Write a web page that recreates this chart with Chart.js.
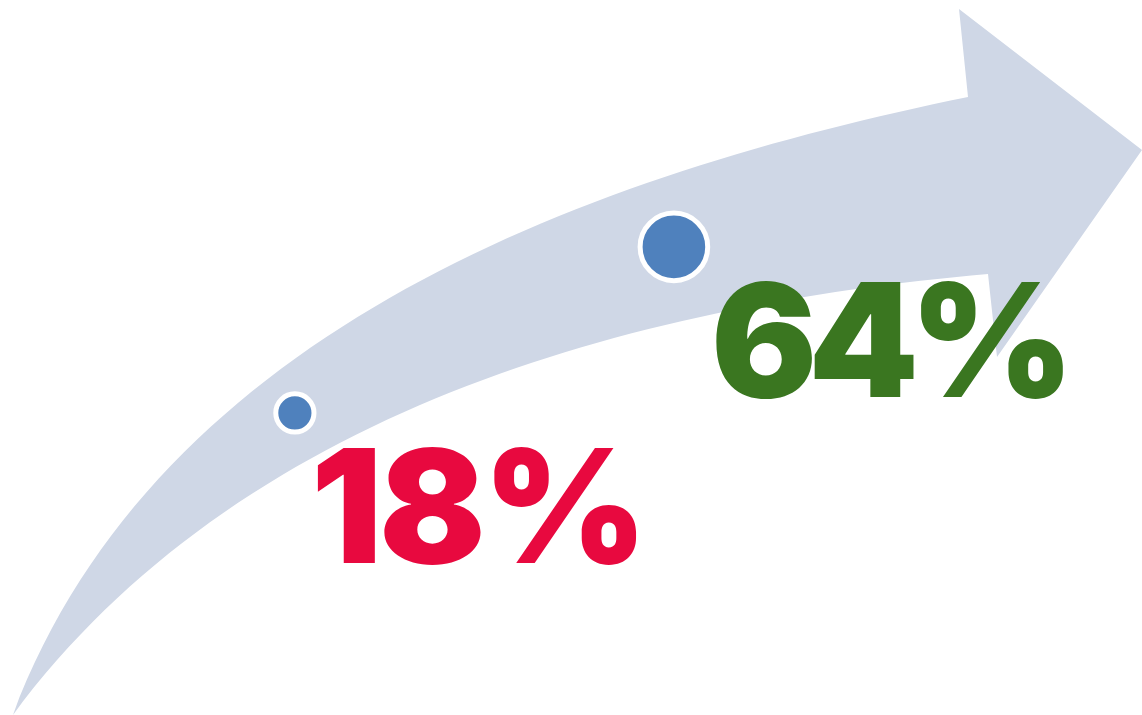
<!DOCTYPE html>
<html>
<head>
<meta charset="utf-8">
<script src="https://cdn.jsdelivr.net/npm/chart.js@4"></script>
<style>
html,body{margin:0;padding:0;background:#fff;}
#wrap{width:1142px;height:715px;position:relative;}
</style>
</head>
<body>
<div id="wrap"><canvas id="c" width="1142" height="715"></canvas></div>
<script>
// ---- data ----
const categories = ['Before', 'After'];
const values = [18, 64];
const valueLabels = ['18%', '64%'];

// ---- styles ----
const labelColors = ['#E8093F', '#3A7620'];
const labelFont = 'Inter';
const labelWeight = 900;
const labelCapHeight = 115;
const labelSpacing = ['-3px', '-9px'];
const labelDx = [22, 42];
const labelDy = 150;
const pointColor = '#4F81BD';
const arrowColor = '#CFD7E6';

// decorative arrow outline (traced guide points), in a 1142x715 design box
const W0 = 1142, H0 = 715;
const upperEdge = [[13,715],[67,600],[133,513],[233,405],[380,305],[450,265],[480,250],[710,163],[968,97]];
const arrowHead = [[959,9],[1142,150],[997,357],[988,274]];
const lowerEdge = [[988,274],[713,312],[580,350],[480,383],[380,422],[273,480],[233,503],[133,587],[67,653],[13,715]];

// least-squares cubic Bezier through a list of guide points (ends fixed)
function fitCubic(Q) {
  const n = Q.length, P0 = Q[0], P3 = Q[n - 1];
  let t = [0];
  for (let i = 1; i < n; i++) t.push(t[i - 1] + Math.hypot(Q[i][0] - Q[i - 1][0], Q[i][1] - Q[i - 1][1]));
  t = t.map(v => v / t[n - 1]);
  let P1, P2;
  const bez = (s) => {
    const u = 1 - s;
    return [u*u*u*P0[0] + 3*u*u*s*P1[0] + 3*u*s*s*P2[0] + s*s*s*P3[0],
            u*u*u*P0[1] + 3*u*u*s*P1[1] + 3*u*s*s*P2[1] + s*s*s*P3[1]];
  };
  for (let iter = 0; iter < 8; iter++) {
    let a11 = 0, a12 = 0, a22 = 0, r1 = [0, 0], r2 = [0, 0];
    for (let k = 0; k < n; k++) {
      const s = t[k], u = 1 - s;
      const b0 = u*u*u, b1 = 3*u*u*s, b2 = 3*u*s*s, b3 = s*s*s;
      a11 += b1*b1; a12 += b1*b2; a22 += b2*b2;
      for (let d = 0; d < 2; d++) {
        const R = Q[k][d] - b0*P0[d] - b3*P3[d];
        r1[d] += b1*R; r2[d] += b2*R;
      }
    }
    const det = a11*a22 - a12*a12;
    P1 = [(a22*r1[0] - a12*r2[0]) / det, (a22*r1[1] - a12*r2[1]) / det];
    P2 = [(a11*r2[0] - a12*r1[0]) / det, (a11*r2[1] - a12*r1[1]) / det];
    t = Q.map((q, k) => {
      if (k === 0) return 0;
      if (k === n - 1) return 1;
      let best = t[k], bd = Infinity;
      for (let j = 0; j <= 400; j++) {
        const s = j / 400, p = bez(s);
        const dd = (p[0]-q[0])**2 + (p[1]-q[1])**2;
        if (dd < bd) { bd = dd; best = s; }
      }
      return best;
    });
  }
  return [P0, P1, P2, P3];
}
const upperCurve = fitCubic(upperEdge);
const lowerCurve = fitCubic(lowerEdge);

const arrowPlugin = {
  id: 'arrowBg',
  beforeDatasetsDraw(chart) {
    const {ctx, chartArea: a} = chart;
    const map = p => [a.left + p[0] / W0 * (a.right - a.left), a.top + p[1] / H0 * (a.bottom - a.top)];
    const U = upperCurve.map(map), L = lowerCurve.map(map);
    ctx.save();
    ctx.beginPath();
    ctx.moveTo(U[0][0], U[0][1]);
    ctx.bezierCurveTo(U[1][0], U[1][1], U[2][0], U[2][1], U[3][0], U[3][1]);
    arrowHead.forEach(p => { const q = map(p); ctx.lineTo(q[0], q[1]); });
    ctx.lineTo(L[0][0], L[0][1]);
    ctx.bezierCurveTo(L[1][0], L[1][1], L[2][0], L[2][1], L[3][0], L[3][1]);
    ctx.closePath();
    ctx.fillStyle = arrowColor;
    ctx.fill();
    ctx.restore();
  }
};

function blueRadius(v) { return 31.3 * Math.sqrt(v / 64); }

const labelPlugin = {
  id: 'valueLabels',
  afterDatasetsDraw(chart) {
    const {ctx} = chart;
    const meta = chart.getDatasetMeta(0);
    ctx.save();
    ctx.textAlign = 'left';
    ctx.textBaseline = 'alphabetic';
    ctx.font = labelWeight + ' 100px ' + labelFont;
    const capAt100 = ctx.measureText('H').actualBoundingBoxAscent;
    const size = labelCapHeight / capAt100 * 100;
    ctx.font = labelWeight + ' ' + size.toFixed(1) + 'px ' + labelFont;
    meta.data.forEach((el, i) => {
      if ('letterSpacing' in ctx) ctx.letterSpacing = labelSpacing[i];
      const m = ctx.measureText(valueLabels[i]);
      ctx.fillStyle = labelColors[i];
      ctx.fillText(valueLabels[i], el.x + labelDx[i] + m.actualBoundingBoxLeft, el.y + labelDy);
    });
    ctx.restore();
  }
};

function draw() {
  new Chart(document.getElementById('c'), {
    type: 'scatter',
    data: {
      labels: categories,
      datasets: [{
        label: 'Share',
        data: values.map((v, i) => ({x: i, y: v})),
        backgroundColor: pointColor,
        borderColor: '#FFFFFF',
        borderWidth: 5,
        pointRadius: ctx => blueRadius(values[ctx.dataIndex]) + 2.5,
        pointHoverRadius: ctx => blueRadius(values[ctx.dataIndex]) + 2.5
      }]
    },
    options: {
      responsive: false,
      animation: false,
      events: [],
      layout: {padding: 0, autoPadding: false},
      plugins: {legend: {display: false}, tooltip: {enabled: false}},
      scales: {
        x: {type: 'linear', display: false, min: -0.778, max: 2.235},
        y: {type: 'linear', display: false, min: -65.7, max: 132.4}
      }
    },
    plugins: [arrowPlugin, labelPlugin]
  });
}
if (document.fonts && document.fonts.load) {
  document.fonts.load(labelWeight + ' 100px ' + labelFont).then(draw, draw);
} else draw();
</script>
</body>
</html>
